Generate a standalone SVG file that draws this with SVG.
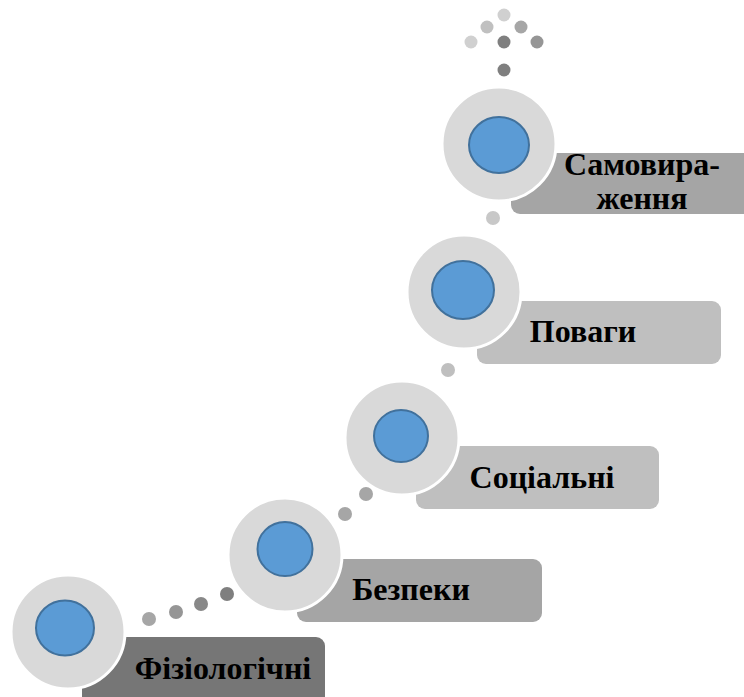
<svg xmlns="http://www.w3.org/2000/svg" width="744" height="697" viewBox="0 0 744 697">
<style>
.outer{fill:#D9D9D9;stroke:#FFFFFF;stroke-width:3}
.inner{fill:#5B9BD5;stroke:#41719C;stroke-width:2}
.lbl{font-family:"Liberation Serif",serif;font-weight:bold;font-size:32px;fill:#000;text-anchor:middle}
</style>
<rect width="744" height="697" fill="#FFFFFF"/>
<g id="connectors">
<circle cx="149" cy="619" r="7" fill="#A6A6A6"/>
<circle cx="176" cy="612" r="7" fill="#969696"/>
<circle cx="201" cy="604" r="7" fill="#888888"/>
<circle cx="227" cy="594" r="7" fill="#7F7F7F"/>
<circle cx="345" cy="514" r="7" fill="#A6A6A6"/>
<circle cx="366" cy="494" r="7" fill="#A6A6A6"/>
<circle cx="448" cy="370" r="7" fill="#BFBFBF"/>
<circle cx="493" cy="218" r="7" fill="#C8C8C8"/>
<circle cx="504" cy="15" r="6.5" fill="#D0D0D0"/>
<circle cx="487" cy="27" r="6.5" fill="#C0C0C0"/>
<circle cx="521" cy="27" r="6.5" fill="#A6A6A6"/>
<circle cx="471" cy="42" r="6.5" fill="#D0D0D0"/>
<circle cx="504" cy="42" r="6.5" fill="#7F7F7F"/>
<circle cx="537" cy="42" r="6.5" fill="#969696"/>
<circle cx="504" cy="70" r="6.5" fill="#7F7F7F"/>
</g>
<g id="node1">
<rect x="82" y="637" width="243" height="75" rx="9" fill="#767676"/>
<circle class="outer" cx="68" cy="632" r="57"/>
<ellipse class="inner" cx="65" cy="628" rx="29" ry="27.5"/>
<text class="lbl" x="223" y="679">Фізіологічні</text>
</g>
<g id="node2">
<rect x="297" y="559" width="245" height="63" rx="9" fill="#A5A5A5"/>
<circle class="outer" cx="285" cy="555" r="57"/>
<ellipse class="inner" cx="285" cy="549" rx="27.5" ry="27"/>
<text class="lbl" x="411" y="600">Безпеки</text>
</g>
<g id="node3">
<rect x="416" y="446" width="243" height="63" rx="9" fill="#BFBFBF"/>
<circle class="outer" cx="402" cy="438" r="57"/>
<ellipse class="inner" cx="401" cy="436" rx="27" ry="26"/>
<text class="lbl" x="542" y="488">Соціальні</text>
</g>
<g id="node4">
<rect x="477" y="301" width="244" height="63" rx="9" fill="#BFBFBF"/>
<circle class="outer" cx="464" cy="292" r="57"/>
<ellipse class="inner" cx="463" cy="290" rx="31" ry="29"/>
<text class="lbl" x="583" y="342">Поваги</text>
</g>
<g id="node5">
<rect x="511" y="153" width="250" height="61" rx="9" fill="#A5A5A5"/>
<circle class="outer" cx="499" cy="144" r="57"/>
<ellipse class="inner" cx="499" cy="145" rx="30" ry="28"/>
<text class="lbl" x="642" y="175">Самовира-</text>
<text class="lbl" x="642" y="209">ження</text>
</g>
</svg>
